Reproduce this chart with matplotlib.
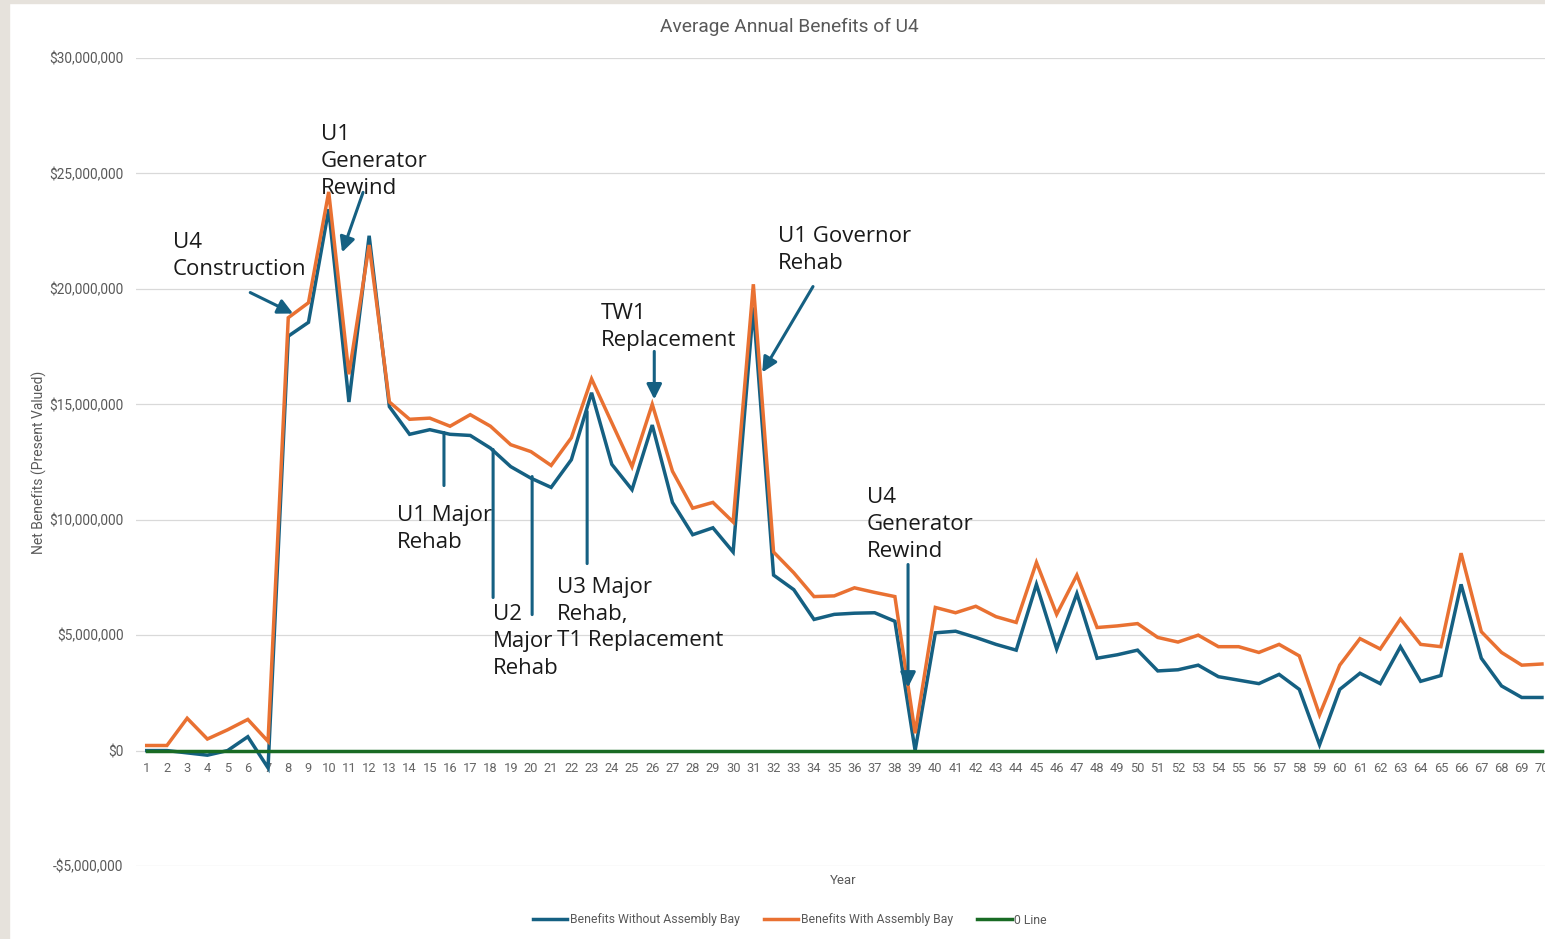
import numpy as np
import matplotlib
matplotlib.use("Agg")
import matplotlib.pyplot as plt
from matplotlib.patches import Rectangle
from matplotlib.ticker import FuncFormatter

plt.rcParams['font.family'] = ['Roboto', 'DejaVu Sans']

years = np.arange(1, 71)
# net benefits, millions of dollars (present valued)
without_bay = [0.0, 0.0, -0.1, -0.2, 0.0, 0.6, -0.75, 17.95, 18.55, 23.45,
               15.1, 22.3, 14.9, 13.7, 13.9, 13.7, 13.65, 13.1, 12.3, 11.8,
               11.4, 12.6, 15.5, 12.4, 11.3, 14.1, 10.75, 9.35, 9.65, 8.6,
               19.2, 7.6, 6.97, 5.68, 5.9, 5.95, 5.97, 5.6, 0.0, 5.1,
               5.17, 4.9, 4.6, 4.35, 7.2, 4.4, 6.8, 4.0, 4.15, 4.35,
               3.45, 3.5, 3.7, 3.2, 3.05, 2.9, 3.3, 2.65, 0.25, 2.65,
               3.35, 2.9, 4.5, 3.0, 3.25, 7.2, 4.0, 2.8, 2.3, 2.3]
with_bay = [0.22, 0.22, 1.4, 0.5, 0.9, 1.35, 0.4, 18.75, 19.4, 24.2,
            16.3, 21.9, 15.1, 14.35, 14.4, 14.05, 14.55, 14.05, 13.25, 12.95,
            12.35, 13.55, 16.1, 14.2, 12.3, 15.0, 12.1, 10.5, 10.75, 9.9,
            20.2, 8.6, 7.7, 6.67, 6.7, 7.05, 6.85, 6.67, 0.75, 6.2,
            5.97, 6.25, 5.8, 5.55, 8.15, 5.9, 7.6, 5.33, 5.4, 5.5,
            4.9, 4.7, 5.0, 4.5, 4.5, 4.25, 4.6, 4.1, 1.55, 3.7,
            4.85, 4.4, 5.7, 4.6, 4.5, 8.55, 5.15, 4.25, 3.7, 3.75]
zero_line = [0.0] * 70

# event labels: text, text position (year, $M), arrow tail, arrow tip, head?
events = [
    ("U4\nConstruction", (2.30, 22.45), (6.12, 19.84), (8.24, 18.93), True),
    ("U1\nGenerator\nRewind", (9.62, 27.13), (11.70, 24.18), (10.66, 21.58), True),
    ("U1 Major\nRehab", (13.38, 10.62), (15.70, 13.78), (15.70, 11.48), False),
    ("U2\nMajor\nRehab", (18.13, 6.33), (18.13, 13.04), (18.13, 6.63), False),
    ("U3 Major\nRehab,\nT1 Replacement", (21.29, 7.52), (20.06, 11.87), (20.06, 5.89), False),
    ("", (22.78, 14.69), (22.78, 14.69), (22.78, 8.10), False),
    ("TW1\nReplacement", (23.47, 19.37), (26.10, 17.29), (26.10, 15.21), True),
    ("U1 Governor\nRehab", (32.2, 22.71), (33.95, 20.10), (31.44, 16.38), True),
    ("U4\nGenerator\nRewind", (36.62, 11.40), (38.65, 8.06), (38.65, 2.73), True),
]

BLUE = '#156082'
ORANGE = '#E97132'
GREEN = '#196B24'
GRAY = '#595959'

fig = plt.figure(figsize=(15.45, 9.39), dpi=100)
fig.patches.append(Rectangle((0, 0), 9 / 1545, 1, transform=fig.transFigure,
                             color='#e6e2dc', zorder=-5))
fig.patches.append(Rectangle((0, 1 - 3 / 939), 1, 3 / 939, transform=fig.transFigure,
                             color='#e6e2dc', zorder=-5))
ax = fig.add_axes([136 / 1545, 1 - 866 / 939, 1 - 136 / 1545, 808 / 939])

m = 1e6
ax.plot(years, np.array(without_bay) * m, color=BLUE, lw=2.5,
        label='Benefits Without Assembly Bay', solid_joinstyle='miter')
ax.plot(years, np.array(with_bay) * m, color=ORANGE, lw=2.5,
        label='Benefits With Assembly Bay', solid_joinstyle='miter')
ax.plot(years, np.array(zero_line) * m, color=GREEN, lw=2.5, label='0 Line')

for txt, tpos, tail, tip, head in events:
    if txt:
        ax.text(tpos[0], tpos[1] * m, txt, fontsize=16, color='#1a1a1a',
                family=['Open Sans', 'DejaVu Sans'],
                ha='left', va='top', linespacing=1.36, zorder=5)
    style = '-|>,head_length=0.6,head_width=0.3' if head else '-'
    ax.annotate('', xy=(tip[0], tip[1] * m), xytext=(tail[0], tail[1] * m),
                arrowprops=dict(arrowstyle=style, color=BLUE, lw=2.2,
                                mutation_scale=15, shrinkA=0, shrinkB=0),
                zorder=6)

ax.set_xlim(0.47, 70.15)
ax.set_ylim(-5 * m, 30 * m)
ax.set_yticks(np.arange(-5, 31, 5) * m)
ax.yaxis.set_major_formatter(FuncFormatter(
    lambda v, p: ('-$' if v < 0 else '$') + f"{abs(v):,.0f}"))
ax.set_xticks(years)
ax.set_xticklabels([str(y) for y in years])
ax.grid(axis='y', color='#d9d9d9', lw=0.9)
ax.set_axisbelow(True)
for s in ax.spines.values():
    s.set_visible(False)
ax.spines['bottom'].set_position(('data', 0))
ax.tick_params(axis='x', length=0, pad=8, labelsize=9.3, labelcolor='#666666')
ax.tick_params(axis='y', length=0, pad=9, labelsize=9.8, labelcolor=GRAY)

ax.set_xlabel('Year', fontsize=9.5, color=GRAY)
ax.xaxis.set_label_coords((843 - 136) / 1409, -0.01)
ax.set_ylabel('Net Benefits (Present Valued)', fontsize=10, color=GRAY)
ax.yaxis.set_label_coords(-0.063, 0.5)

fig.text(789 / 1545, 1 - 27 / 939, 'Average Annual Benefits of U4',
         fontsize=13.8, color=GRAY, ha='center', va='center')
fig.legend(loc='center', bbox_to_anchor=(790 / 1545, 1 - 920 / 939), ncol=3,
           frameon=False, fontsize=8.8, labelcolor=GRAY, handlelength=2.8,
           handletextpad=0.2, columnspacing=2.0)

fig.savefig('out.png', dpi=100)
